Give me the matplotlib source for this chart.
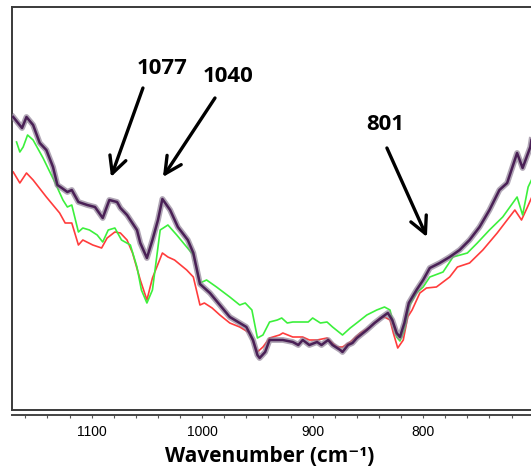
import numpy as np
import matplotlib
matplotlib.use("Agg")
import matplotlib.pyplot as plt
from matplotlib.ticker import MultipleLocator, FixedLocator

# spectra (wavenumber, arbitrary absorbance)
purple_wn = [1171, 1163, 1159, 1153, 1147, 1141, 1135, 1131, 1127, 1122, 1118, 1112,
             1104, 1097, 1090, 1084, 1077, 1074, 1068, 1065, 1059, 1056, 1050, 1045,
             1040, 1036, 1029, 1022, 1013, 1008, 1002, 999, 993, 984, 975, 966, 960,
             954, 950, 948, 943, 939, 927, 918, 913, 909, 903, 896, 892, 886, 882, 875,
             873, 868, 864, 860, 851, 844, 837, 832, 828, 824, 821, 817, 813, 806, 800,
             794, 785, 776, 767, 758, 749, 740, 731, 724, 715, 710, 703, 702]
purple_a = [.293, .282, .293, .285, .267, .260, .243, .225, .222, .218, .220, .208,
            .205, .203, .192, .210, .208, .202, .195, .190, .180, .167, .152, .170,
            .190, .211, .200, .183, .170, .157, .126, .123, .117, .105, .093, .087, .083,
            .070, .055, .052, .058, .070, .070, .068, .065, .070, .065, .068, .065, .070, .065, .060,
            .058, .065, .067, .072, .080, .087, .093, .097, .090, .077, .073, .087, .107, .120, .130,
            .142, .147, .153, .160, .170, .183, .200, .220, .227, .257, .242, .263, .270]

green_wn = [1168, 1165, 1162, 1158, 1153, 1144, 1133, 1126, 1122, 1118, 1112, 1108,
            1102, 1095, 1090, 1085, 1079, 1073, 1065, 1059, 1055, 1050, 1045, 1038,
            1031, 1023, 1014, 1008, 1002, 996, 987, 975, 966, 961, 955, 950, 945, 939,
            932, 928, 923, 918, 909, 904, 900, 893, 887, 882, 873, 866, 859, 851, 842,
            835, 830, 824, 821, 817, 813, 806, 800, 794, 782, 773, 760, 751, 740, 728,
            715, 710, 705, 702]
green_a = [.268, .258, .263, .275, .270, .252, .227, .210, .203, .205, .178, .182,
           .180, .175, .168, .180, .182, .170, .165, .143, .120, .107, .120, .180,
           .185, .175, .163, .155, .127, .130, .123, .113, .105, .107, .100, .072, .075, .088,
           .090, .092, .087, .088, .088, .088, .092, .087, .088, .083, .075, .082, .088, .095, .100,
           .103, .100, .073, .069, .080, .103, .117, .123, .133, .138, .153, .157, .167, .180, .193,
           .213, .195, .223, .230]

red_wn = [1171, 1165, 1159, 1153, 1141, 1129, 1124, 1118, 1112, 1108, 1099, 1091,
          1086, 1079, 1074, 1068, 1063, 1056, 1050, 1045, 1036, 1031, 1025, 1014,
          1008, 1002, 998, 991, 984, 975, 966, 957, 950, 945, 939, 930, 927, 918, 909,
          903, 896, 887, 878, 873, 866, 857, 848, 839, 835, 830, 827, 823, 818, 814,
          810, 803, 797, 788, 776, 769, 758, 746, 733, 724, 717, 711, 706, 702]
red_a = [.238, .227, .237, .230, .213, .197, .187, .187, .165, .170, .165, .162,
         .172, .178, .177, .170, .157, .130, .110, .132, .157, .153, .150, .140,
         .133, .105, .107, .102, .095, .087, .083, .077, .058, .063, .072, .075, .077, .073, .073,
         .070, .070, .072, .063, .063, .068, .077, .083, .092, .093, .090, .077, .062, .070, .093,
         .100, .117, .122, .123, .133, .143, .147, .160, .177, .190, .200, .190, .202, .212]

tick_vals = [1100, 1000, 900, 800]

# peak labels: (text, arrow tip, arrow tail, text centre)
peaks = ["1077", "1040", "801"]
tips = [(1082.5, .233), (1035.5, .233), (796.6, .173)]
tails = [(1053.6, .322), (988.4, .312), (832.8, .262)]
label_pos = [(1036.4, .341), (976.7, .333), (834.6, .286)]

fig = plt.figure(figsize=(5.31, 4.69), dpi=100)
# box runs past the right edge of the figure, as in the original
ax = fig.add_axes([12 / 531, 1 - 410 / 469, 560 / 531, 403 / 469])

ax.plot(red_wn, red_a, color="#ff3c3c", lw=1.2, zorder=2)
ax.plot(green_wn, green_a, color="#3cf03c", lw=1.2, zorder=3)
ax.plot(purple_wn, purple_a, color="#8f8096", lw=4.2, alpha=0.7, zorder=4,
        solid_joinstyle="round")
ax.plot(purple_wn, purple_a, color="#4a2056", lw=1.8, zorder=5,
        solid_joinstyle="round")

ax.set_xlim(1172.1, 665.3)
ax.set_ylim(0, 0.403)
ax.set_xticks([])
ax.set_yticks([])
for sp in ax.spines.values():
    sp.set_color("#3a3a3a")
    sp.set_linewidth(1.4)

# separate tick axis just under the box
sec = ax.secondary_xaxis(-5 / 403)
sec.spines["bottom"].set_color("#444444")
sec.spines["bottom"].set_linewidth(1.4)
sec.xaxis.set_major_locator(FixedLocator(tick_vals))
sec.xaxis.set_minor_locator(MultipleLocator(20))
sec.tick_params(which="both", direction="out", length=2.5, width=0.8,
                color="#555555", pad=5, labelsize=10)
for lab in sec.get_xticklabels():
    lab.set_family(["Liberation Sans", "DejaVu Sans"])

for txt, tip, tail, pos in zip(peaks, tips, tails, label_pos):
    ax.annotate("", xy=tip, xytext=tail,
                arrowprops=dict(arrowstyle="->,head_length=0.75,head_width=0.38",
                                lw=2.4, color="black", mutation_scale=16,
                                shrinkA=0, shrinkB=0), zorder=6)
    ax.text(pos[0], pos[1], txt, ha="center", va="center", fontsize=16,
            fontweight="bold", family=["Open Sans", "DejaVu Sans"], zorder=6)

fig.text(270 / 531, 1 - 456 / 469, "Wavenumber (cm\u207b\u00b9)", ha="center",
         va="center", fontsize=15, fontweight="bold",
         family=["Open Sans", "DejaVu Sans"])

fig.savefig("out.png", dpi=100)
